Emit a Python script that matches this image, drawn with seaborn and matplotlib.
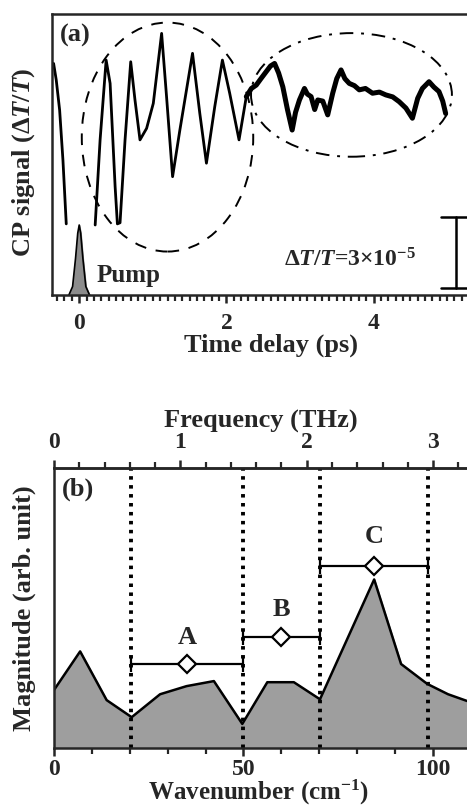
import numpy as np
import pandas as pd
import matplotlib
matplotlib.use("Agg")
import matplotlib.pyplot as plt
from matplotlib.patches import Ellipse
from matplotlib.ticker import MultipleLocator
import seaborn as sns

# ---- data (a): CP signal, arbitrary units
t_early = [-0.348, -0.312, -0.266, -0.221, -0.176]
v_early = [0.824, 0.765, 0.658, 0.480, 0.253]

t_osc = [0.217, 0.284, 0.366, 0.420, 0.488, 0.519, 0.555, 0.623, 0.700, 0.758,
         0.826, 0.916, 1.007, 1.120, 1.187, 1.269, 1.368, 1.540, 1.639, 1.729,
         1.842, 1.946, 2.045, 2.172, 2.271]
v_osc = [0.249, 0.552, 0.836, 0.753, 0.386, 0.253, 0.257, 0.552, 0.830, 0.694,
         0.552, 0.593, 0.682, 0.931, 0.706, 0.421, 0.587, 0.860, 0.646, 0.469,
         0.670, 0.836, 0.718, 0.552, 0.706]

t_noisy = [2.271, 2.34, 2.406, 2.47, 2.542, 2.60, 2.655, 2.71, 2.767, 2.83,
           2.894, 2.94, 2.993, 3.061, 3.10, 3.151, 3.20, 3.242, 3.31, 3.377,
           3.445, 3.50, 3.558, 3.61, 3.670, 3.74, 3.806, 3.89, 3.986, 4.08,
           4.167, 4.26, 4.348, 4.44, 4.528, 4.60, 4.664, 4.754, 4.82, 4.889,
           4.94, 4.980]
v_noisy = [0.706, 0.735, 0.747, 0.770, 0.795, 0.815, 0.824, 0.790, 0.741, 0.660,
           0.587, 0.650, 0.694, 0.735, 0.715, 0.706, 0.660, 0.694, 0.690, 0.641,
           0.718, 0.770, 0.801, 0.770, 0.753, 0.745, 0.730, 0.735, 0.718, 0.722,
           0.712, 0.705, 0.688, 0.665, 0.629, 0.700, 0.735, 0.759, 0.740, 0.724,
           0.690, 0.646]

t_pump = [-0.14, -0.09, -0.05, -0.02, 0.0, 0.02, 0.05, 0.09, 0.14]
v_pump = [0.0, 0.03, 0.13, 0.22, 0.249, 0.22, 0.13, 0.03, 0.0]

# ---- data (b): FT magnitude spectrum
wn = [0.0, 6.9, 13.9, 20.5, 28.0, 35.0, 42.2, 49.7, 56.3, 63.3, 70.2, 84.5,
      91.6, 98.5, 104.0, 109.0]
mag = [0.207, 0.345, 0.171, 0.110, 0.192, 0.221, 0.239, 0.086, 0.235, 0.235,
       0.174, 0.602, 0.300, 0.229, 0.192, 0.168]

band_edges = [20.3, 50.0, 70.3, 98.6]
band_names = ["A", "B", "C"]
band_center = [35.1, 60.0, 84.4]
band_lo = [20.3, 50.0, 70.3]
band_hi = [50.0, 70.3, 98.6]
band_y = [0.300, 0.398, 0.650]
label_y = [0.393, 0.496, 0.754]

CM_PER_THZ = 33.356

sns.set_style("ticks")
plt.rcParams["font.family"] = ["Liberation Serif", "DejaVu Serif"]
plt.rcParams["font.weight"] = "bold"
plt.rcParams["axes.labelweight"] = "bold"
plt.rcParams["mathtext.fontset"] = "custom"
plt.rcParams["mathtext.rm"] = "Liberation Serif:bold"
plt.rcParams["mathtext.it"] = "Liberation Serif:italic:bold"
plt.rcParams["mathtext.bf"] = "Liberation Serif:bold"
plt.rcParams["axes.linewidth"] = 1.8

fig = plt.figure(figsize=(4.67, 8.09), dpi=100)
ax1 = fig.add_axes([0.1113, 0.6354, 0.8887, 0.3473])
ax2 = fig.add_axes([0.1156, 0.0754, 0.8844, 0.3461])

# ----- panel (a)
sns.lineplot(x=t_early, y=v_early, ax=ax1, color="black", lw=2.0, sort=False, estimator=None)
sns.lineplot(x=t_osc, y=v_osc, ax=ax1, color="black", lw=2.0, sort=False, estimator=None)
sns.lineplot(x=t_noisy, y=v_noisy, ax=ax1, color="black", lw=3.6, sort=False, estimator=None)
ax1.fill_between(t_pump, v_pump, color="#8c8c8c")
sns.lineplot(x=t_pump, y=v_pump, ax=ax1, color="black", lw=1.2, sort=False, estimator=None)

ax1.add_patch(Ellipse((1.2, 0.562), 2.33, 0.815, fill=False, ls=(0, (6, 5)), lw=1.4, color="black"))
ax1.add_patch(Ellipse((3.70, 0.712), 2.73, 0.44, fill=False, ls=(0, (7, 4, 1.5, 4)), lw=1.4, color="black"))

# scale bar
ax1.plot([5.12, 5.12], [0.025, 0.278], color="black", lw=1.8)
ax1.plot([4.92, 5.40], [0.278, 0.278], color="black", lw=1.8)
ax1.plot([4.92, 5.40], [0.025, 0.025], color="black", lw=1.8)

ax1.text(0.24, 0.046, "Pump", fontsize=18)
ax1.text(4.58, 0.10, r"$\mathit{ΔT/T}$=3×10$^{-5}$", fontsize=17, ha="right")
ax1.text(0.02, 0.965, "(a)", transform=ax1.transAxes, fontsize=19, va="top")

ax1.set_xlim(-0.37, 5.27)
ax1.set_ylim(0, 1)
ax1.set_yticks([])
ax1.set_xticks([0, 2, 4])
ax1.xaxis.set_minor_locator(MultipleLocator(0.1))
ax1.tick_params(axis="x", which="major", direction="out", length=6, width=1.8, labelsize=17, pad=7)
ax1.tick_params(axis="x", which="minor", direction="out", length=4, width=1.6)
ax1.spines["right"].set_visible(False)
ax1.set_xlabel("Time delay (ps)", fontsize=19)
ax1.xaxis.set_label_coords(0.528, -0.138)
ax1.set_ylabel(r"CP signal ($\mathit{ΔT/T}$)", fontsize=19)
ax1.yaxis.set_label_coords(-0.036, 0.47)

# ----- panel (b)
ax2.fill_between(wn, mag, color="#9e9e9e")
sns.lineplot(x=wn, y=mag, ax=ax2, color="black", lw=1.8, sort=False, estimator=None)
for xe in band_edges:
    ax2.axvline(xe, color="black", lw=2.8, ls=(0, (0.9, 1.4)))
for name, c, lo, hi, yb, yl in zip(band_names, band_center, band_lo, band_hi, band_y, label_y):
    ax2.errorbar(c, yb, xerr=[[c - lo], [hi - c]], fmt="D", ms=9, mfc="white", mec="black",
                 mew=1.6, color="black", elinewidth=1.6, capsize=6, capthick=4)
    ax2.text(c, yl, name, fontsize=19, ha="center", va="center")
ax2.text(0.02, 0.965, "(b)", transform=ax2.transAxes, fontsize=19, va="top")

ax2.set_xlim(0, 109.0)
ax2.set_ylim(0, 1)
ax2.set_yticks([])
ax2.set_xticks([0, 50, 100])
ax2.xaxis.set_minor_locator(MultipleLocator(10))
ax2.tick_params(axis="x", which="major", direction="out", length=6, width=1.8, labelsize=17, pad=2)
ax2.tick_params(axis="x", which="minor", direction="out", length=4, width=1.6)
ax2.spines["right"].set_visible(False)
ax2.set_xlabel(r"Wavenumber (cm$^{\mathrm{-1}}$)", fontsize=18)
ax2.xaxis.set_label_coords(0.495, -0.108)
ax2.set_ylabel("Magnitude (arb. unit)", fontsize=19)
ax2.yaxis.set_label_coords(-0.044, 0.5)

top = ax2.secondary_xaxis("top", functions=(lambda x: x / CM_PER_THZ, lambda f: f * CM_PER_THZ))
top.set_xticks([0, 1, 2, 3])
top.xaxis.set_minor_locator(MultipleLocator(0.2))
top.tick_params(axis="x", which="major", direction="out", length=6, width=1.8, labelsize=17, pad=5)
top.tick_params(axis="x", which="minor", direction="out", length=4, width=1.6)
top.set_xlabel("Frequency (THz)", fontsize=19, labelpad=3)

fig.savefig("out.png", dpi=100)
